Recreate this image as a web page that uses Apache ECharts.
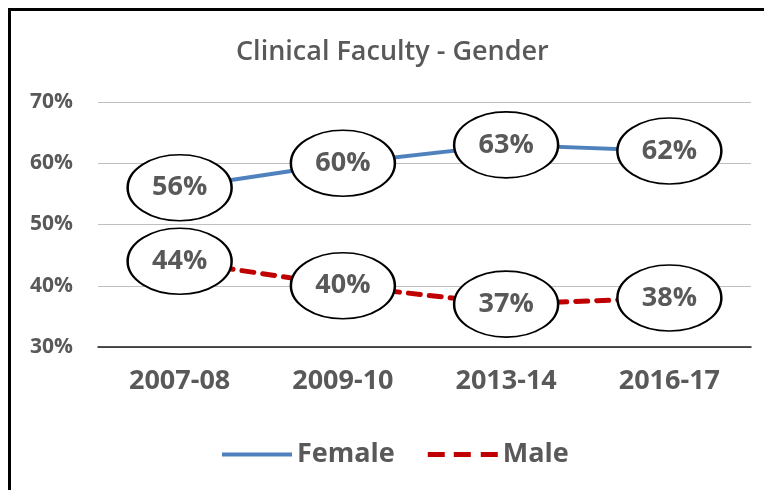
<!DOCTYPE html>
<html lang="en">
<head>
    <meta charset="UTF-8">
    <title>Clinical Faculty - Gender</title>
    <style>
        html,body{
            margin:0;
            padding:0;
            background:#fff;
        }
        #chartbox{
            width:764px;
            height:490px;
        }
    </style>
</head>
<body>
  <div id="chartbox"></div>
</body>
<script src="https://cdn.jsdelivr.net/npm/echarts@6/dist/echarts.min.js"></script>
<script>
    // data
    var years = ['2007-08', '2009-10', '2013-14', '2016-17'];
    var female = [56, 60, 63, 62];
    var male = [44, 40, 37, 38];
    var yTicks = [30, 40, 50, 60, 70];

    var fontName = '"Open Sans", "Noto Sans", sans-serif',
            textGray = '#595959',
            femaleColor = '#4f81bd',
            maleColor = '#c00000';

    // ellipse labels drawn as scatter symbols sitting on the points
    function bubbleSeries(name, values) {
        return {
            name: name,
            type: 'scatter',
            data: values,
            symbol: 'circle',
            symbolSize: [104, 66],
            z: 5,
            itemStyle: {
                color: '#fff',
                borderColor: '#000',
                borderWidth: 2,
                opacity: 1
            },
            label: {
                show: true,
                position: 'inside',
                formatter: function(p) {
                    return p.value + '%';
                },
                color: textGray,
                fontFamily: fontName,
                fontWeight: 'bold',
                fontSize: 27
            },
            emphasis: {disabled: true},
            silent: true
        };
    }

    var option = {
        animation: false,
        backgroundColor: '#fff',
        textStyle: {
            fontFamily: fontName
        },
        graphic: [{
            type: 'rect',
            shape: {x: 9.5, y: 9.5, width: 800, height: 600},
            style: {fill: 'none', stroke: '#000', lineWidth: 3},
            silent: true
        }],
        title: {
            text: 'Clinical Faculty - Gender',
            left: 231,
            top: 34,
            textStyle: {
                color: textGray,
                fontFamily: fontName,
                fontWeight: 600,
                fontSize: 27
            }
        },
        legend: {
            data: [
                {name: 'Female', icon: 'path://M0,0h70v4h-70z'},
                {name: 'Male', icon: 'path://M0,0h17v5h-17z M26,0h17v5h-17z M53,0h17v5h-17z'}
            ],
            bottom: 17,
            left: 217,
            itemWidth: 70,
            itemHeight: 6,
            itemGap: 33,
            textStyle: {
                color: textGray,
                fontFamily: fontName,
                fontWeight: 'bold',
                fontSize: 27
            }
        },
        grid: {
            left: 98,
            right: 13,
            top: 102,
            bottom: 143,
            containLabel: false
        },
        xAxis: {
            type: 'category',
            data: years,
            boundaryGap: true,
            axisTick: {show: false},
            axisLine: {lineStyle: {color: '#1a1a1a', width: 1.5}},
            axisLabel: {
                color: textGray,
                fontFamily: fontName,
                fontWeight: 'bold',
                fontSize: 27,
                margin: 21
            }
        },
        yAxis: {
            type: 'value',
            min: yTicks[0],
            max: yTicks[yTicks.length - 1],
            interval: 10,
            axisLine: {show: false},
            axisTick: {show: false},
            splitLine: {lineStyle: {color: '#bfbfbf', width: 1.2}},
            axisLabel: {
                color: textGray,
                fontFamily: fontName,
                fontWeight: 'bold',
                fontSize: 21,
                margin: 25,
                formatter: '{value}%'
            }
        },
        series: [
            {
                name: 'Female',
                type: 'line',
                data: female,
                symbol: 'none',
                z: 3,
                lineStyle: {color: femaleColor, width: 4},
                itemStyle: {color: femaleColor}
            },
            {
                name: 'Male',
                type: 'line',
                data: male,
                symbol: 'none',
                z: 3,
                lineStyle: {color: maleColor, width: 5, type: [12, 9], cap: 'round'},
                itemStyle: {color: maleColor}
            },
            bubbleSeries('Female label', female),
            bubbleSeries('Male label', male)
        ]
    };

    var chart = echarts.init(document.getElementById('chartbox'));
    chart.setOption(option, true);
</script>
</html>
